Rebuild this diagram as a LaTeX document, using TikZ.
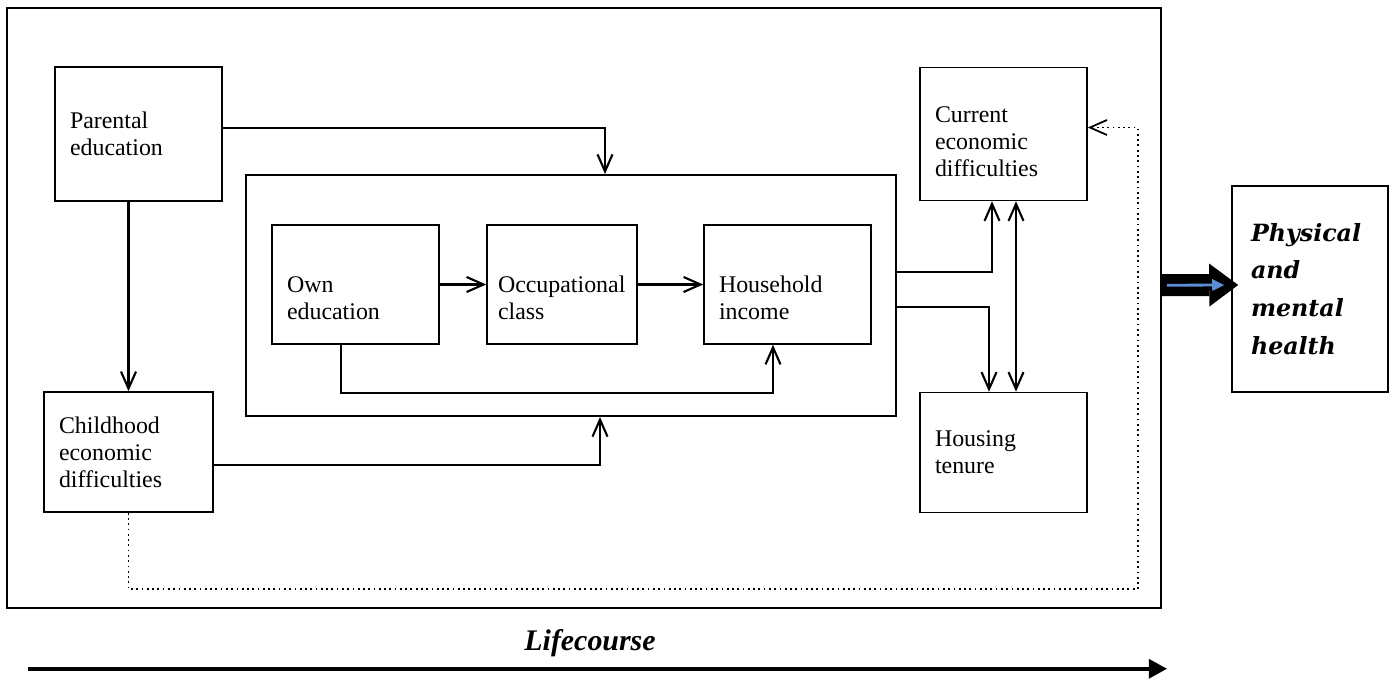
\documentclass[tikz,border=0pt]{standalone}
\usepackage{fontspec}
\setmainfont{Liberation Serif}
\newfontfamily\healthfont{DejaVu Serif}
\usepackage{xcolor}
\usepackage{tikz}
\usetikzlibrary{positioning, arrows.meta, calc, fit}
\definecolor{arrowblue}{RGB}{91,142,214}
\tikzstyle{box} = [rectangle, draw, line width=0.9pt, align=left, inner xsep=0.3cm, text width=2.74cm, minimum height=2.38cm, font=\fontsize{13.6}{15.4}\selectfont]
\tikzstyle{outcome} = [rectangle, draw, line width=0.9pt, align=left, inner xsep=0.38cm, text width=2.36cm, minimum height=4.12cm, font=\healthfont\fontsize{13.5}{21.5}\selectfont\bfseries\itshape]
\tikzstyle{frame} = [rectangle, draw, line width=1.4pt, inner sep=0pt]
\tikzstyle{lifetext} = [font=\fontsize{17}{20}\selectfont\bfseries\itshape]
\tikzstyle{line} = [draw, line width=1.2pt, -{Straight Barb[length=3.4mm 0 0, width=3mm 0 0]}]
\tikzstyle{both} = [draw, line width=1.2pt, {Straight Barb[length=3.4mm 0 0, width=3mm 0 0]}-{Straight Barb[length=3.4mm 0 0, width=3mm 0 0]}]
\tikzstyle{res} = [draw, dotted, line width=1pt, -{Straight Barb[length=3.4mm 0 0, width=3mm 0 0]}]
\tikzstyle{big} = [draw, line width=0.44cm, -{Triangle[length=0.58cm 0 0, width=0.86cm 0 0, line width=0pt]}]
\tikzstyle{thin} = [draw=arrowblue, line width=1.6pt, -{Triangle[length=2.4mm 0 0, width=2.4mm 0 0, line width=0pt]}]
\tikzstyle{lifeline} = [draw, line width=2.2pt, -{Triangle[length=0.36cm 0 0, width=0.4cm 0 0, line width=0pt]}]

\begin{document}
\begin{tikzpicture}[node distance=1.5cm, auto]
        \useasboundingbox (0,0) rectangle (27.84,-13.6);
        % Nodes
        \node (parent) [box, minimum height=2.68cm] at (2.77,-2.68) {Parental\\education};
        \node (child) [box, text width=2.78cm, minimum height=2.4cm, node distance=6.36cm, below of=parent, xshift=-0.2cm] {Childhood\\economic\\difficulties};
        \node (own) [box, node distance=4.34cm, right of=parent, yshift=-3.01cm] {\rule{0pt}{0.86cm}Own\\education};
        \node (occ) [box, text width=2.56cm, inner xsep=0.22cm, node distance=4.13cm, right of=own] {\rule{0pt}{0.86cm}Occupational\\class};
        \node (hh) [box, node distance=4.51cm, right of=occ] {\rule{0pt}{0.86cm}Household\\income};
        \node (cur) [box, minimum height=2.66cm, node distance=17.3cm, right of=parent] {\rule{0pt}{0.62cm}Current\\economic\\difficulties};
        \node (house) [box, minimum height=2.4cm, node distance=6.37cm, below of=cur] {Housing\\tenure};
        \node (health) [outcome, node distance=10.45cm, right of=hh, yshift=-0.09cm] {Physical\\and\\mental\\health};
        % Frames
        \node (inner) [frame, fit={($(own.north west)+(-0.5,0.98)$) ($(hh.south east)+(0.48,-1.42)$)}] {};
        \node (outer) [frame, line width=1.1pt, fit={($(child.south west)+(-0.72,-1.9)$) ($(cur.north east)+(1.46,1.18)$)}] {};
        \coordinate (bend) at ($(house.south east)+(1.0,-1.52)$);
        \node (life) [lifetext] at ($(outer.south)+(0.12,-0.68)$) {Lifecourse};
        \coordinate (lstart) at ($(outer.south west)+(0.44,-1.2)$);
        \coordinate (lend) at ($(outer.south east)+(0.1,-1.2)$);
        % Edges
        \path [line] ([yshift=0.12cm]parent.east) -| ($(inner.north)+(0.68,0)$);
        \path [line] (parent.south -| child.north) -- (child.north);
        \path [line] ([yshift=-0.26cm]child.east) -| ($(inner.south)+(0.58,0)$);
        \path [res] (child.south) |- (bend) |- ([yshift=0.13cm]cur.east);
        \path [line] (own) -- (occ);
        \path [line] (occ) -- (hh);
        \path [line] ([xshift=-0.29cm]own.south) -- ++(0,-0.96) -| ([xshift=-0.29cm]hh.south);
        \path [line] ([yshift=0.47cm]inner.east) -| ([xshift=-0.23cm]cur.south);
        \path [line] ([yshift=-0.23cm]inner.east) -| ([xshift=-0.29cm]house.north);
        \path [both] ([xshift=0.25cm]cur.south) -- ([xshift=0.25cm]house.north);
        % Outcome and lifecourse
        \path [big] ([yshift=0.45cm]outer.east) -- ([xshift=0.14cm, yshift=0.08cm]health.west);
        \path [thin] ([xshift=0.1cm, yshift=0.45cm]outer.east) -- ([xshift=-0.14cm, yshift=0.08cm]health.west);
        \path [lifeline] (lstart) -- (lend);
    \end{tikzpicture}
\end{document}
